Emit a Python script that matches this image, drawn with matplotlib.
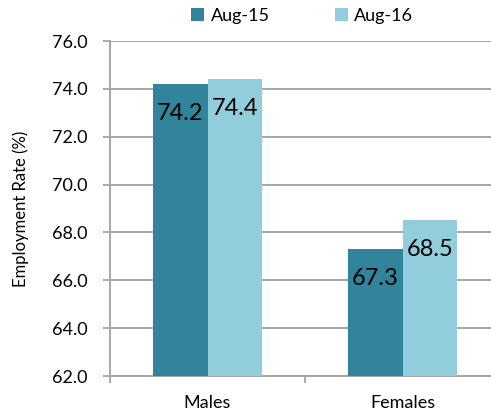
import matplotlib.pyplot as plt
import numpy as np

## data
categories = ['Males', 'Females']
aug_15 = [74.2, 67.3]
aug_16 = [74.4, 68.5]
series_names = ['Aug-15', 'Aug-16']
y_ticks = [62.0, 64.0, 66.0, 68.0, 70.0, 72.0, 74.0, 76.0]

plt.rcParams['font.family'] = ['Lato', 'DejaVu Sans']

W, H = 491, 415
fig = plt.figure(figsize=(W / 100, H / 100), dpi=100)
# plot area runs a little past the right edge, like the original
ax = fig.add_axes([110 / W, 39 / H, 390 / W, 335 / H])

dark = '#31849B'
light = '#92CDDC'
grid_c = '#A6A6A6'

x = np.arange(len(categories))
width = 0.282
bars_a = ax.bar(x - width / 2, aug_15, width=width, color=dark, zorder=3)
bars_b = ax.bar(x + width / 2, aug_16, width=width, color=light, zorder=3)

# value labels sit inside the top of each bar
for bars, vals in [(bars_a, aug_15), (bars_b, aug_16)]:
    for b, v in zip(bars, vals):
        ax.annotate('%.1f' % v, (b.get_x() + b.get_width() / 2, v),
                    xytext=(0, -21), textcoords='offset points',
                    ha='center', va='center', fontsize=17, color='black', zorder=4)

ax.set_ylim(62, 76)
ax.set_xlim(-0.5, 1.5)
ax.set_yticks(y_ticks)
ax.set_yticklabels(['%.1f' % t for t in y_ticks], fontsize=13)
ax.set_xticks(x)
ax.set_xticklabels(categories, fontsize=13)
ax.set_xticks([-0.5, 0.5, 1.5], minor=True)
ax.tick_params(axis='x', which='major', length=0, pad=14)
ax.tick_params(axis='x', which='minor', length=5, width=1.3, color=grid_c, direction='out')
ax.tick_params(axis='y', length=5, width=1.3, color=grid_c, direction='out', pad=11)

ax.grid(axis='y', color=grid_c, linewidth=1.4, zorder=0)
ax.set_axisbelow(True)
for s in ['top', 'right']:
    ax.spines[s].set_visible(False)
for s in ['left', 'bottom']:
    ax.spines[s].set_color(grid_c)
    ax.spines[s].set_linewidth(1.4)

ax.set_ylabel('Employment Rate (%)', fontsize=12, labelpad=17)

fig.legend([bars_a, bars_b], series_names, loc='center', ncol=2,
           bbox_to_anchor=(302 / W, 1 - 16 / H), frameon=False,
           fontsize=13, handlelength=0.75, handleheight=0.75,
           handletextpad=0.35, columnspacing=3.6)

plt.savefig('out.png', dpi=100)
